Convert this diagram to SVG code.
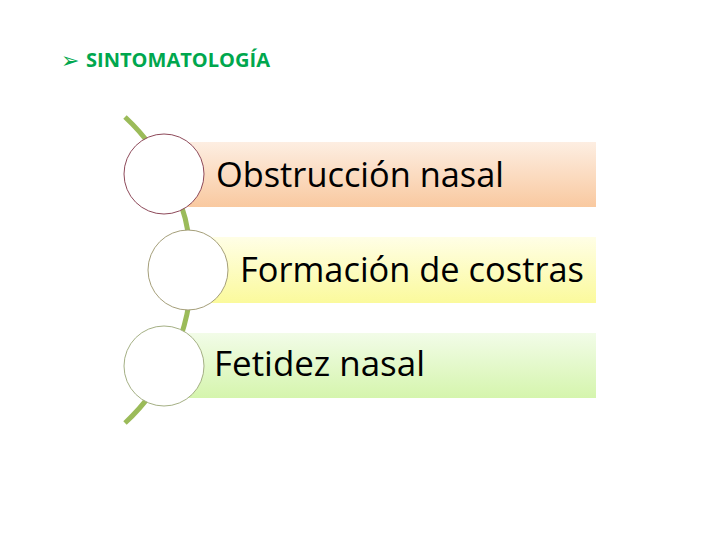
<svg xmlns="http://www.w3.org/2000/svg" width="720" height="540" viewBox="0 0 720 540">
<defs>
<linearGradient id="gOrange" x1="0" y1="0" x2="0" y2="1">
<stop offset="0" stop-color="#fdeee2"/>
<stop offset="1" stop-color="#f9c9a0"/>
</linearGradient>
<linearGradient id="gYellow" x1="0" y1="0" x2="0" y2="1">
<stop offset="0" stop-color="#fffee6"/>
<stop offset="1" stop-color="#fbfa9c"/>
</linearGradient>
<linearGradient id="gGreen" x1="0" y1="0" x2="0" y2="1">
<stop offset="0" stop-color="#f2fce8"/>
<stop offset="1" stop-color="#d5f5ad"/>
</linearGradient>
<style>
.lbl{font-family:"Open Sans","Liberation Sans",sans-serif;font-size:35px;fill:#000}
.ttl{font-family:"Open Sans","Liberation Sans",sans-serif;font-size:20px;font-weight:bold;fill:#00a74e}
.circ{fill:#fff;stroke-width:1}
</style>
</defs>
<rect width="720" height="540" fill="#fff"/>
<g id="title">
<text x="61" y="68" style="font-family:'DejaVu Sans',sans-serif;font-size:22px;fill:#00a74e">➢</text>
<text class="ttl" x="86" y="67" textLength="184" lengthAdjust="spacingAndGlyphs">SINTOMATOLOGÍA</text>
</g>
<g id="connectors">
<path d="M125,117 A209,209 0 0 1 125,423" fill="none" stroke="#9bbb59" stroke-width="5"/>
</g>
<g id="node1">
<rect x="164" y="142" width="432" height="65" fill="url(#gOrange)"/>
<circle class="circ" cx="164" cy="174" r="40" stroke="#8e4a5a"/>
<text class="lbl" x="216" y="187" textLength="288" lengthAdjust="spacingAndGlyphs">Obstrucción nasal</text>
</g>
<g id="node2">
<rect x="188" y="237" width="408" height="66" fill="url(#gYellow)"/>
<circle class="circ" cx="188" cy="270" r="40" stroke="#a59f7a"/>
<text class="lbl" x="240" y="282" textLength="344" lengthAdjust="spacingAndGlyphs">Formación de costras</text>
</g>
<g id="node3">
<rect x="164" y="333" width="432" height="65" fill="url(#gGreen)"/>
<circle class="circ" cx="164" cy="366" r="40" stroke="#a5b085"/>
<text class="lbl" x="214" y="376" textLength="211" lengthAdjust="spacingAndGlyphs">Fetidez nasal</text>
</g>
</svg>
